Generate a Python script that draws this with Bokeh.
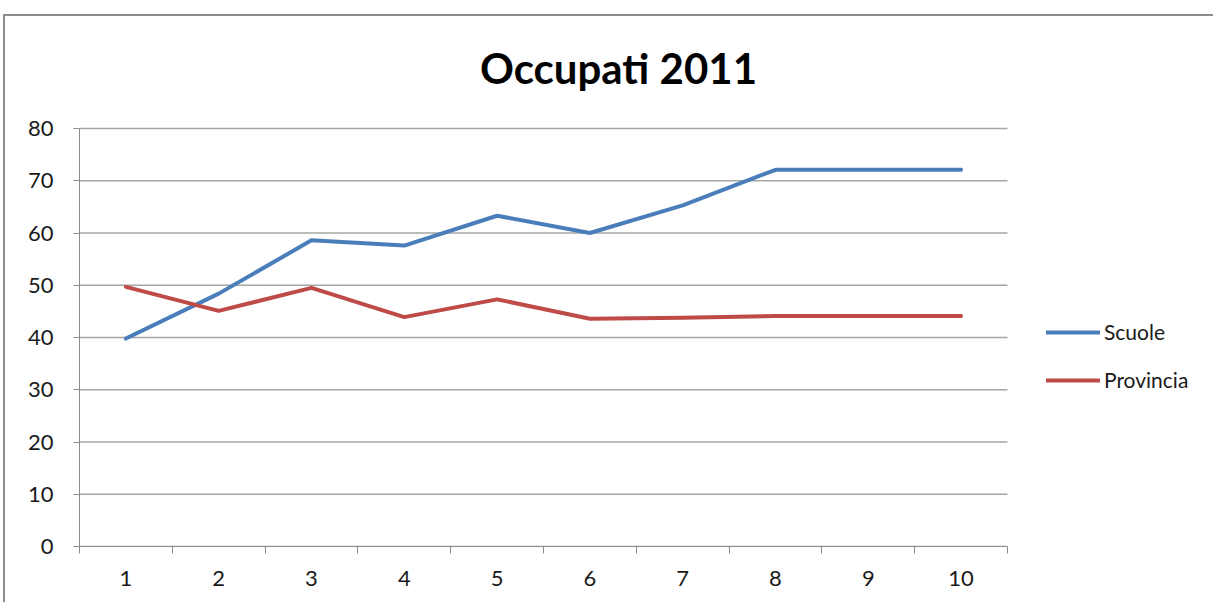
from bokeh.plotting import figure
from bokeh.models import Range1d, FixedTicker, Legend, LegendItem, Label
from bokeh.embed import file_html
from bokeh.resources import INLINE

# ---- data ----
categories = ["1", "2", "3", "4", "5", "6", "7", "8", "9", "10"]
scuole = [39.8, 48.4, 58.6, 57.6, 63.3, 60.0, 65.3, 72.1, 72.1, 72.1]
provincia = [49.7, 45.1, 49.5, 43.9, 47.3, 43.6, 43.8, 44.1, 44.1, 44.1]
y_ticks = [0, 10, 20, 30, 40, 50, 60, 70, 80]
title_text = "Occupati 2011"

xs = [i + 1 for i in range(len(categories))]
n = len(categories)
y_max = y_ticks[-1]

FONT = "Lato"
BLUE = "#4A7EBB"
RED = "#BE4B48"
GRID = "#A6A6A6"
AXIS = "#8C8C8C"
TXT = "#1A1A1A"

W, H = 1210, 588
ML = 74                 # left border (canvas px)
PLOT_W, PLOT_H = 928, 418  # size of the visible plotting area (0..80, 0.5..10.5)
TOP_SPACE = 112         # space above the plotting area (title region)
FW = W - ML
FH = TOP_SPACE + PLOT_H
x_end = 0.5 + FW * n / PLOT_W
y_end = y_max * FH / PLOT_H

p = figure(width=W, height=H, output_backend="svg", toolbar_location=None,
           x_range=Range1d(0.5, x_end), y_range=Range1d(0, y_end),
           min_border_left=ML, min_border_right=0,
           min_border_top=0, min_border_bottom=H - FH,
           outline_line_color=None, background_fill_color="white",
           border_fill_color="white")
p.styles = {"margin-left": "3px", "margin-top": "14px",
            "border-left": "2px solid #8C8C8C", "border-top": "2px solid #8C8C8C"}

# title (placed in data space above the plotting area)
px_x = n / PLOT_W          # data units per pixel, x
px_y = y_max / PLOT_H      # data units per pixel, y
p.add_layout(Label(x=0.5 + 539 * px_x, y=y_max + 61 * px_y, text=title_text,
                   text_align="center", text_baseline="alphabetic",
                   text_font=FONT, text_font_size="42px", text_font_style="bold",
                   text_color="#000000"))

# gridlines limited to the plotting area
p.xgrid.grid_line_color = None
p.ygrid.grid_line_color = None
p.segment(x0=[0.5] * len(y_ticks), x1=[n + 0.5] * len(y_ticks), y0=y_ticks, y1=y_ticks,
          line_color=GRID, line_width=1.3)

# axes
p.xaxis.bounds = (0.5, n + 0.5)
p.xaxis.ticker = FixedTicker(ticks=xs, minor_ticks=[x - 0.5 for x in xs] + [xs[-1] + 0.5])
p.xaxis.major_label_overrides = {x: c for x, c in zip(xs, categories)}
p.xaxis.major_tick_line_color = None
p.xaxis.major_tick_out = 7
p.xaxis.major_tick_in = 0
p.xaxis.minor_tick_out = 7
p.xaxis.minor_tick_in = 0
p.xaxis.minor_tick_line_color = AXIS
p.xaxis.axis_line_color = AXIS
p.xaxis.major_label_standoff = 17
p.xaxis.major_label_text_font = FONT
p.xaxis.major_label_text_font_size = "22px"
p.xaxis.major_label_text_color = TXT

p.yaxis.bounds = (0, y_max)
p.yaxis.ticker = FixedTicker(ticks=y_ticks)
p.yaxis.major_tick_out = 6
p.yaxis.major_tick_in = 0
p.yaxis.minor_tick_line_color = None
p.yaxis.major_tick_line_color = AXIS
p.yaxis.axis_line_color = AXIS
p.yaxis.major_label_standoff = 20
p.yaxis.major_label_text_font = FONT
p.yaxis.major_label_text_font_size = "22px"
p.yaxis.major_label_text_color = TXT

r1 = p.line(xs, scuole, line_color=BLUE, line_width=4, line_join="round", line_cap="round")
r2 = p.line(xs, provincia, line_color=RED, line_width=4, line_join="round", line_cap="round")

legend = Legend(items=[LegendItem(label="Scuole", renderers=[r1]),
                       LegendItem(label="Provincia", renderers=[r2])],
                location=(967, 154), orientation="vertical",
                glyph_width=54, glyph_height=20, label_height=20, spacing=23,
                label_standoff=4, padding=0, margin=0,
                border_line_color=None, background_fill_alpha=0,
                label_text_font=FONT, label_text_font_size="21px",
                label_text_color=TXT)
p.add_layout(legend, "center")

open("out.html", "w").write(file_html(p, INLINE))
